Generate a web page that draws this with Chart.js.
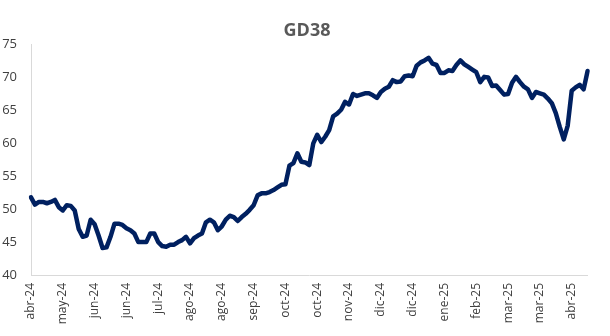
<!DOCTYPE html>
<html>
<head>
<meta charset="utf-8">
<script src="https://cdn.jsdelivr.net/npm/chart.js@4"></script>
<style>
  html, body { margin: 0; padding: 0; background: #fff; }
  #wrap { width: 610px; height: 336px; }
</style>
</head>
<body>
<div id="wrap"><canvas id="chart" width="610" height="336"></canvas></div>
<script>
// etiquetas del eje (una cada 8 observaciones)
const tickLabels = ['abr-24', 'may-24', 'jun-24', 'jun-24', 'jul-24', 'ago-24', 'ago-24', 'sep-24', 'oct-24',
    'oct-24', 'nov-24', 'dic-24', 'dic-24', 'ene-25', 'feb-25', 'mar-25', 'mar-25', 'abr-25'];
const labelEvery = 8;

// precio GD38
const gd38 = [
    51.8, 50.7, 51.1, 51.1, 50.9, 51.1, 51.4, 50.3, 49.8, 50.6,
    50.5, 49.8, 47.0, 45.8, 46.0, 48.4, 47.7, 46.0, 44.1, 44.2,
    45.8, 47.8, 47.8, 47.6, 47.1, 46.8, 46.3, 45.0, 45.0, 45.0,
    46.3, 46.3, 45.0, 44.4, 44.3, 44.6, 44.6, 45.0, 45.3, 45.8,
    44.8, 45.6, 46.0, 46.3, 48.0, 48.4, 48.0, 46.8, 47.4, 48.4,
    49.0, 48.8, 48.2, 48.8, 49.3, 49.9, 50.6, 52.1, 52.4, 52.4,
    52.6, 52.9, 53.3, 53.7, 53.8, 56.6, 57.0, 58.5, 57.2, 57.1,
    56.7, 60.0, 61.3, 60.2, 61.0, 62.0, 64.1, 64.5, 65.1, 66.3,
    65.9, 67.5, 67.2, 67.4, 67.6, 67.6, 67.3, 66.9, 67.8, 68.3,
    68.6, 69.6, 69.3, 69.4, 70.2, 70.3, 70.2, 71.8, 72.3, 72.6,
    73.0, 72.1, 71.9, 70.7, 70.7, 71.1, 71.0, 71.9, 72.6, 72.0,
    71.6, 71.2, 70.8, 69.3, 70.1, 70.0, 68.7, 68.8, 68.1, 67.4,
    67.5, 69.2, 70.1, 69.3, 68.6, 68.2, 66.9, 67.8, 67.6, 67.4,
    66.8, 66.1, 64.6, 62.5, 60.6, 62.7, 68.0, 68.5, 68.9, 68.2,
    71.0
];

const labels = gd38.map((v, i) => (i % labelEvery === 0 ? (tickLabels[i / labelEvery] || '') : ''));

// el título va centrado sobre todo el ancho del lienzo, no sólo del área con padding
const centerTitle = {
    id: 'centerTitle',
    afterLayout(chart) {
        if (chart.titleBlock) {
            chart.titleBlock.left = 4;
            chart.titleBlock.right = 610;
        }
    }
};

const ctx = document.getElementById('chart').getContext('2d');
new Chart(ctx, {
    type: 'line',
    data: {
        labels: labels,
        datasets: [{
            label: 'GD38',
            data: gd38,
            borderColor: '#002060',
            borderWidth: 4.5,
            pointRadius: 0,
            tension: 0,
            borderJoinStyle: 'round',
            borderCapStyle: 'round',
            fill: false
        }]
    },
    options: {
        responsive: false,
        animation: false,
        layout: { padding: { left: 0, right: 19, top: 0, bottom: 0 } },
        scales: {
            x: {
                grid: { display: false, drawTicks: false },
                border: { display: true, color: '#d9d9d9', width: 1 },
                ticks: {
                    autoSkip: false,
                    maxRotation: 90,
                    minRotation: 90,
                    padding: 8,
                    color: '#404040',
                    font: { family: 'Open Sans', size: 12 }
                },
                afterFit: (scale) => { scale.height = 61; }
            },
            y: {
                min: 40,
                max: 75,
                grid: { display: false, drawTicks: false },
                border: { display: true, color: '#d9d9d9', width: 1 },
                ticks: {
                    stepSize: 5,
                    padding: 14,
                    color: '#404040',
                    font: { family: 'Open Sans', size: 13 }
                },
                afterFit: (scale) => { scale.width = 31; }
            }
        },
        plugins: {
            legend: { display: false },
            tooltip: { enabled: false },
            title: {
                display: true,
                text: 'GD38',
                color: '#595959',
                font: { family: 'Open Sans', size: 18, weight: 'bold' },
                padding: { top: 20, bottom: 3 }
            }
        }
    },
    plugins: [centerTitle]
});
</script>
</body>
</html>
